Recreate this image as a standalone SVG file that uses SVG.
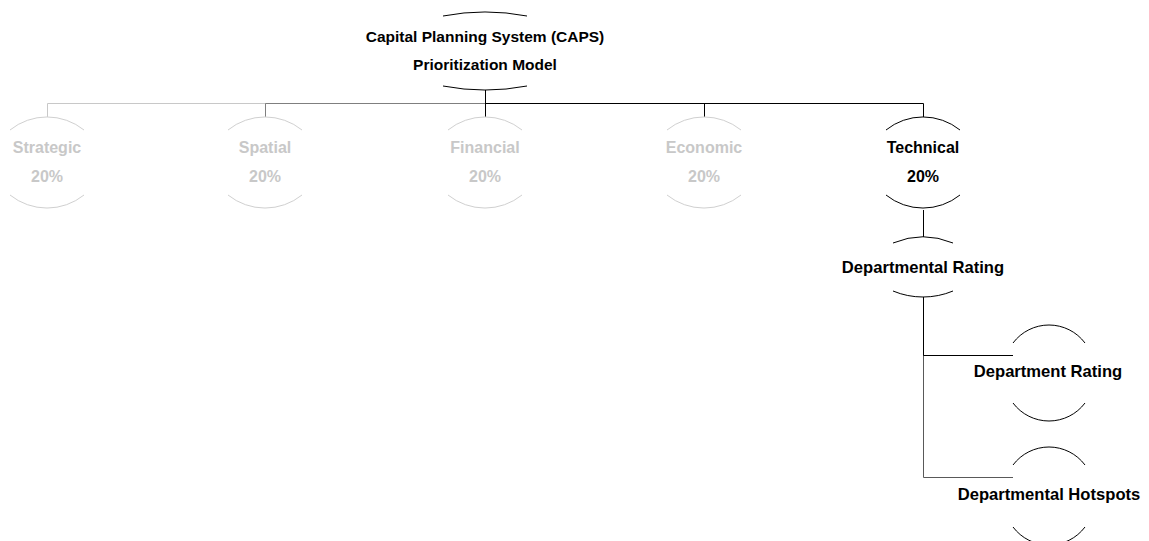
<svg xmlns="http://www.w3.org/2000/svg" width="1149" height="541" viewBox="0 0 1149 541">
<style>
  text { font-family: "Liberation Sans", Arial, sans-serif; font-weight: bold; font-size: 16px; text-anchor: middle; }
  .big { font-size: 16.6px; }
  .dark text { fill: #000; }
  .dim text { fill: #c8c8c8; }
  .arc { fill: none; stroke-width: 1; }
  .dark .arc { stroke: #000; }
  .dim .arc { stroke: #d0d0d0; }
  .conn { fill: none; stroke-width: 1; }
</style>
<rect width="1149" height="541" fill="#fff"/>
<g id="connectors">
  <path class="conn" stroke="#c8c8c8" d="M485.5 103.5 H47.5 V117"/>
  <path class="conn" stroke="#7f7f7f" d="M485.5 103.5 H265.5 V117"/>
  <path class="conn" stroke="#000" d="M485.5 90 V117"/>
  <path class="conn" stroke="#000" d="M485.5 103.5 H704.5 V117"/>
  <path class="conn" stroke="#000" d="M485.5 103.5 H923.5 V117"/>
  <path class="conn" stroke="#000" d="M923.5 210 V237"/>
  <path class="conn" stroke="#595959" d="M923.5 297 V477.5 H1013"/>
  <path class="conn" stroke="#000" d="M923.5 297 V355.5 H1013"/>
</g>
<g id="root" class="dark">
  <path class="arc" d="M443 16 A222 222 0 0 1 527 16"/>
  <path class="arc" d="M443 86 A222 222 0 0 0 527 86"/>
  <text x="485" y="42" style="font-size:15.5px">Capital Planning System (CAPS)</text>
  <text x="485" y="70" style="font-size:15.5px">Prioritization Model</text>
</g>
<g id="strategic" class="dim">
  <path class="arc" d="M10 130 A59 59 0 0 1 84 130"/>
  <path class="arc" d="M10 195 A59 59 0 0 0 84 195"/>
  <text x="47" y="153">Strategic</text>
  <text x="47" y="182">20%</text>
</g>
<g id="spatial" class="dim">
  <path class="arc" d="M228 130 A59 59 0 0 1 302 130"/>
  <path class="arc" d="M228 195 A59 59 0 0 0 302 195"/>
  <text x="265" y="153">Spatial</text>
  <text x="265" y="182">20%</text>
</g>
<g id="financial" class="dim">
  <path class="arc" d="M448 130 A59 59 0 0 1 522 130"/>
  <path class="arc" d="M448 195 A59 59 0 0 0 522 195"/>
  <text x="485" y="153">Financial</text>
  <text x="485" y="182">20%</text>
</g>
<g id="economic" class="dim">
  <path class="arc" d="M667 130 A59 59 0 0 1 741 130"/>
  <path class="arc" d="M667 195 A59 59 0 0 0 741 195"/>
  <text x="704" y="153">Economic</text>
  <text x="704" y="182">20%</text>
</g>
<g id="technical" class="dark">
  <path class="arc" d="M886 130 A59 59 0 0 1 960 130"/>
  <path class="arc" d="M886 195 A59 59 0 0 0 960 195"/>
  <text x="923" y="153">Technical</text>
  <text x="923" y="182">20%</text>
</g>
<g id="departmental-rating" class="dark">
  <path class="arc" d="M893 243 A78 78 0 0 1 953 243"/>
  <path class="arc" d="M893 291 A78 78 0 0 0 953 291"/>
  <text class="big" x="923" y="273">Departmental Rating</text>
</g>
<g id="department-rating" class="dark">
  <path class="arc" d="M1013 343 A45 45 0 0 1 1085 343"/>
  <path class="arc" d="M1013 403 A45 45 0 0 0 1085 403"/>
  <text class="big" x="1048" y="377">Department Rating</text>
</g>
<g id="departmental-hotspots" class="dark">
  <path class="arc" d="M1013 465 A45 45 0 0 1 1085 465"/>
  <path class="arc" d="M1013 527 A45 45 0 0 0 1085 527"/>
  <text class="big" x="1049" y="500">Departmental Hotspots</text>
</g>
</svg>
